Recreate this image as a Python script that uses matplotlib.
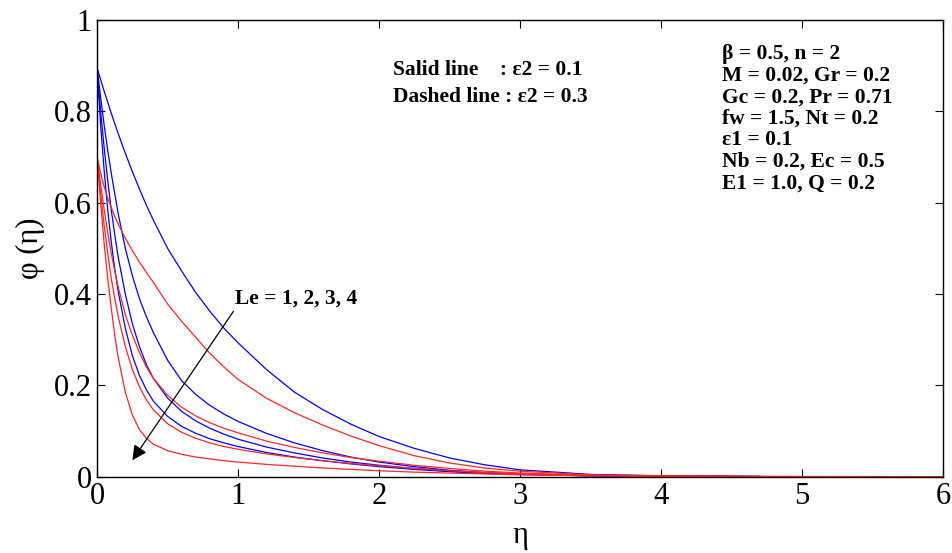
import numpy as np
import matplotlib
matplotlib.use("Agg")
import matplotlib.pyplot as plt

plt.rcParams['font.family'] = ['Liberation Serif', 'DejaVu Serif']

# eta grid (blue curves stop at 4.7, red ones run on to 6)
eta_b = [0, 0.025, 0.05, 0.075, 0.1, 0.125, 0.15, 0.2, 0.25, 0.3, 0.35, 0.4, 0.5, 0.6, 0.7,
         0.8, 0.9, 1.0, 1.2, 1.4, 1.6, 1.8, 2.0, 2.25, 2.5, 2.75, 3.0, 3.5, 4.0, 4.7]
eta_r = eta_b + [5.0, 6.0]

# phi(eta) for Le = 1, 2, 3, 4  (blue: eps2 = 0.1, red: eps2 = 0.3)
blue_le1 = [0.895, 0.869, 0.844, 0.820, 0.796, 0.773, 0.751, 0.708, 0.668, 0.630, 0.594, 0.561, 0.500, 0.450, 0.403,
            0.362, 0.325, 0.293, 0.235, 0.185, 0.147, 0.115, 0.088, 0.062, 0.041, 0.026, 0.015, 0.005, 0.002, 0.001]
blue_le2 = [0.895, 0.83, 0.77, 0.715, 0.665, 0.62, 0.575, 0.50, 0.44, 0.39, 0.35, 0.315, 0.255, 0.21, 0.18,
            0.156, 0.137, 0.121, 0.095, 0.074, 0.057, 0.043, 0.032, 0.022, 0.014, 0.009, 0.006, 0.002, 0.001, 0.0]
blue_le3 = [0.895, 0.80, 0.72, 0.65, 0.585, 0.53, 0.48, 0.40, 0.335, 0.285, 0.245, 0.215, 0.172, 0.143, 0.122,
            0.106, 0.093, 0.082, 0.065, 0.052, 0.041, 0.032, 0.025, 0.018, 0.012, 0.008, 0.005, 0.002, 0.001, 0.0]
blue_le4 = [0.895, 0.77, 0.67, 0.585, 0.515, 0.455, 0.405, 0.325, 0.265, 0.222, 0.19, 0.165, 0.132, 0.11, 0.095,
            0.083, 0.074, 0.066, 0.053, 0.043, 0.035, 0.028, 0.022, 0.016, 0.011, 0.007, 0.005, 0.002, 0.001, 0.0]

red_le1 = [0.70, 0.665, 0.635, 0.61, 0.59, 0.57, 0.553, 0.522, 0.495, 0.47, 0.447, 0.425, 0.378, 0.34, 0.305,
           0.27, 0.24, 0.213, 0.172, 0.140, 0.113, 0.089, 0.068, 0.046, 0.030, 0.019, 0.012, 0.004, 0.002, 0.001,
           0.0005, 0.0]
red_le2 = [0.70, 0.64, 0.585, 0.535, 0.49, 0.45, 0.415, 0.355, 0.31, 0.272, 0.24, 0.215, 0.178, 0.152, 0.133,
           0.118, 0.106, 0.096, 0.078, 0.064, 0.052, 0.042, 0.034, 0.025, 0.018, 0.012, 0.008, 0.003, 0.001, 0.0,
           0.0, 0.0]
red_le3 = [0.70, 0.62, 0.55, 0.49, 0.435, 0.39, 0.35, 0.285, 0.235, 0.197, 0.168, 0.146, 0.116, 0.097, 0.084,
           0.074, 0.066, 0.060, 0.050, 0.042, 0.035, 0.029, 0.024, 0.018, 0.013, 0.009, 0.006, 0.002, 0.001, 0.0,
           0.0, 0.0]
red_le4 = [0.70, 0.60, 0.51, 0.435, 0.37, 0.31, 0.26, 0.185, 0.135, 0.103, 0.084, 0.071, 0.057, 0.049, 0.043,
           0.039, 0.035, 0.032, 0.027, 0.023, 0.019, 0.016, 0.013, 0.010, 0.008, 0.006, 0.004, 0.002, 0.001, 0.0,
           0.0, 0.0]

xticks = [0, 1, 2, 3, 4, 5, 6]
yticks = [0, 0.2, 0.4, 0.6, 0.8, 1]
yticklabels = ['0', '0.2', '0.4', '0.6', '0.8', '1']

params = ['β = 0.5, n = 2', 'M = 0.02, Gr = 0.2', 'Gc = 0.2, Pr = 0.71',
          'fw = 1.5, Nt = 0.2', 'ε1 = 0.1', 'Nb = 0.2, Ec = 0.5', 'E1 = 1.0, Q = 0.2']

fig = plt.figure(figsize=(9.52, 5.53), dpi=100)
ax = fig.add_axes([0.102, 0.138, 0.8885, 0.826])

for y in [blue_le1, blue_le2, blue_le3, blue_le4]:
    ax.plot(eta_b, y, color=(0, 0, 1), lw=0.9)
for y in [red_le1, red_le2, red_le3, red_le4]:
    ax.plot(eta_r, y, color=(1, 0.15, 0.15), lw=0.9)

ax.set_xlim(0, 6)
ax.set_ylim(0, 1)
ax.set_xticks(xticks)
ax.set_xticklabels([str(t) for t in xticks])
ax.set_yticks(yticks)
ax.set_yticklabels(yticklabels)
ax.tick_params(direction='in', length=6, width=0.8, top=True, right=True,
               labelsize=22, pad=4)
for s in ax.spines.values():
    s.set_linewidth(1.0)
ax.set_xlabel('η', fontsize=22, labelpad=7)
ax.set_ylabel('φ (η)', fontsize=22, labelpad=6)

ax.text(2.10, 0.890, 'Salid line    : ε2 = 0.1', fontsize=15.5, fontweight='bold', va='center')
ax.text(2.10, 0.832, 'Dashed line : ε2 = 0.3', fontsize=15.5, fontweight='bold', va='center')

for i, p in enumerate(params):
    ax.text(4.43, 0.925 - i * 0.0471, p, fontsize=15.5, fontweight='bold', va='center')

ax.text(0.98, 0.389, 'Le = 1, 2, 3, 4', fontsize=15.5, fontweight='bold', va='center')
ax.annotate('', xy=(0.25, 0.036), xytext=(0.967, 0.362),
            arrowprops=dict(arrowstyle='-|>', color='black', lw=0.9,
                            mutation_scale=22, shrinkA=0, shrinkB=0))

fig.savefig('out.png', dpi=100)
